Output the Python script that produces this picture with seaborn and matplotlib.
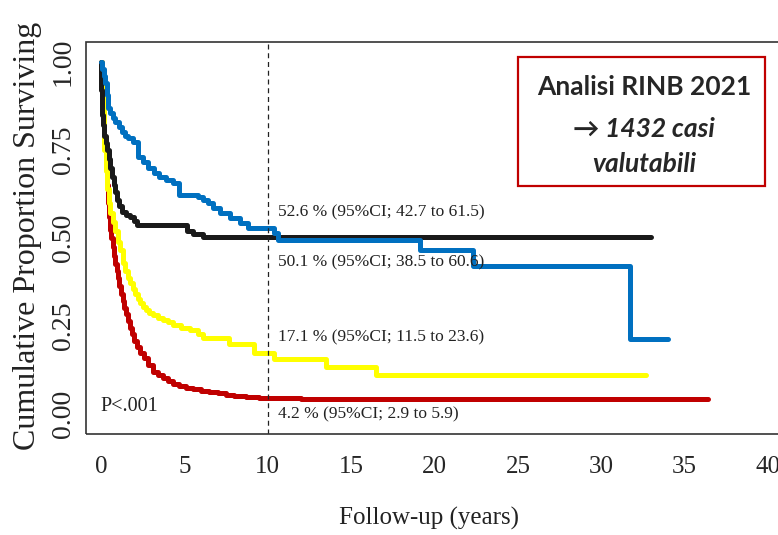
import matplotlib
matplotlib.use("Agg")
import matplotlib.pyplot as plt
from matplotlib.patches import Rectangle
import seaborn as sns

# Kaplan-Meier step curves (time in years, proportion surviving)
blue_t = [0, 0.08, 0.16, 0.24, 0.33, 0.42, 0.55, 0.7, 0.84, 1.05, 1.26, 1.45, 1.62, 1.92, 2.2,
          2.5, 2.8, 3.15, 3.5, 3.9, 4.3, 4.7, 5.8, 6.1, 6.4, 6.72, 7.14, 7.74, 8.34, 8.8, 10.4,
          10.6, 19.1, 22.3, 31.7, 34.0]
blue_s = [1.0, 0.98, 0.96, 0.94, 0.905, 0.87, 0.855, 0.84, 0.83, 0.815, 0.80, 0.79, 0.784,
          0.773, 0.73, 0.715, 0.70, 0.686, 0.673, 0.665, 0.656, 0.622, 0.617, 0.607, 0.60,
          0.585, 0.571, 0.557, 0.543, 0.528, 0.515, 0.494, 0.466, 0.42, 0.213, 0.213]

black_t = [0, 0.02, 0.05, 0.1, 0.18, 0.27, 0.36, 0.46, 0.56, 0.66, 0.76, 0.86, 0.96, 1.1, 1.26,
           1.5, 1.74, 1.95, 2.16, 5.16, 5.5, 6.1, 33.0]
black_s = [1.0, 0.92, 0.85, 0.82, 0.79, 0.77, 0.75, 0.725, 0.70, 0.673, 0.65, 0.63, 0.608, 0.59,
           0.574, 0.565, 0.56, 0.548, 0.537, 0.52, 0.512, 0.503, 0.503]

yellow_t = [0, 0.05, 0.1, 0.15, 0.2, 0.28, 0.36, 0.45, 0.55, 0.7, 0.85, 1.0, 1.14, 1.3, 1.45,
            1.6, 1.74, 1.9, 2.05, 2.2, 2.34, 2.5, 2.7, 2.9, 3.12, 3.4, 3.7, 4.0, 4.3, 4.8, 5.34,
            5.8, 6.12, 7.7, 9.2, 10.4, 13.5, 16.5, 32.7]
yellow_s = [1.0, 0.93, 0.87, 0.81, 0.75, 0.69, 0.64, 0.60, 0.57, 0.545, 0.52, 0.49, 0.466, 0.43,
            0.405, 0.385, 0.372, 0.355, 0.34, 0.328, 0.315, 0.305, 0.296, 0.288, 0.281, 0.273,
            0.266, 0.26, 0.253, 0.245, 0.239, 0.228, 0.216, 0.20, 0.173, 0.155, 0.134, 0.11, 0.11]

red_t = [0, 0.04, 0.08, 0.12, 0.16, 0.2, 0.24, 0.3, 0.36, 0.42, 0.48, 0.54, 0.62, 0.7, 0.78,
         0.86, 0.94, 1.02, 1.1, 1.2, 1.3, 1.4, 1.5, 1.6, 1.72, 1.85, 2.0, 2.16, 2.35, 2.55, 2.8,
         3.1, 3.4, 3.7, 4.0, 4.3, 4.7, 5.1, 5.5, 6.0, 6.5, 7.0, 7.5, 8.0, 8.7, 9.5, 10.5, 12.0,
         36.4]
red_s = [1.0, 0.95, 0.91, 0.87, 0.83, 0.79, 0.75, 0.70, 0.65, 0.60, 0.56, 0.523, 0.50, 0.475,
         0.45, 0.425, 0.405, 0.385, 0.365, 0.342, 0.322, 0.302, 0.283, 0.265, 0.245, 0.226,
         0.207, 0.19, 0.172, 0.158, 0.138, 0.12, 0.11, 0.101, 0.093, 0.086, 0.08, 0.074, 0.07,
         0.066, 0.063, 0.059, 0.055, 0.051, 0.048, 0.046, 0.045, 0.042, 0.042]

x_ticks = [0, 5, 10, 15, 20, 25, 30, 35, 40]
y_ticks = [0.0, 0.25, 0.5, 0.75, 1.0]
y_ticklabels = ["0.00", "0.25", "0.50", "0.75", "1.00"]

ci_labels = ["52.6 % (95%CI; 42.7 to 61.5)", "50.1 % (95%CI; 38.5 to 60.6)",
             "17.1 % (95%CI; 11.5 to 23.6)", "4.2 % (95%CI; 2.9 to 5.9)"]
ci_y = [0.572, 0.430, 0.217, -0.001]
box_lines = ["Analisi RINB 2021", "\u2192 1432 casi", "valutabili"]

sns.set_style("white")
plt.rcParams["font.family"] = ["Liberation Serif", "DejaVu Serif"]

W, H = 778, 535
fig = plt.figure(figsize=(W / 100, H / 100), dpi=100)
ax = fig.add_axes([86 / W, 1 - 434 / H, (793.6 - 86) / W, 392 / H])

curves = [(red_t, red_s, "#C00000"), (yellow_t, yellow_s, "#FFFF00"),
          (black_t, black_s, "#1a1a1a"), (blue_t, blue_s, "#0070C0")]
for t, s, c in curves:
    sns.lineplot(x=t, y=s, drawstyle="steps-post", color=c, lw=3.6, ax=ax)

ax.set_xlim(-0.9, 41.53)
ax.set_ylim(-0.057, 1.057)
ax.axvline(10, color="#222", lw=0.9, ls=(0, (4, 3)))

for sp in ax.spines.values():
    sp.set_visible(False)
ax.spines["bottom"].set_position(("outward", 3))
ax.add_patch(Rectangle((0, 0), 1, 1, transform=ax.transAxes, fill=False,
                       lw=1.2, ec="#333", clip_on=False, zorder=5))

ax.set_xticks(x_ticks)
ax.set_yticks(y_ticks)
ax.set_yticklabels(y_ticklabels)
ax.tick_params(axis="x", length=8, width=1.1, color="#333", pad=5, labelsize=18)
ax.tick_params(axis="y", length=6, width=1.1, color="#333", pad=1.5, labelsize=20,
               labelrotation=90)
for lab in ax.get_yticklabels():
    lab.set_va("center")
ax.set_xlabel("")
ax.set_ylabel("")

for lab, yv in zip(ci_labels, ci_y):
    ax.text(10.6, yv, lab, fontsize=12.5, va="center", ha="left", color="#222")
ax.text(-0.06, 0.021, "P<.001", fontsize=14.5, va="center", ha="left", color="#222")

fig.text(13 / W, 1 - 236 / H, "Cumulative Proportion Surviving", rotation=90,
         fontsize=23, ha="left", va="center", color="#222")
fig.text(429 / W, 1 - 518 / H, "Follow-up (years)", fontsize=18,
         ha="center", va="center", color="#222")

# framed note in the top right corner
fig.patches.append(Rectangle((518 / W, 1 - 186 / H), (765 - 518) / W, (186 - 57) / H,
                             transform=fig.transFigure, fill=False, ec="#C00000", lw=1.6))
sans = ["Lato", "DejaVu Sans"]
fig.text(644 / W, 1 - 95 / H, box_lines[0], family=sans, fontsize=19, fontweight="bold",
         ha="center", va="baseline")
fig.text(644 / W, 1 - 137 / H, box_lines[1], family=sans, fontsize=19, fontweight="bold",
         fontstyle="italic", ha="center", va="baseline")
fig.text(644 / W, 1 - 172 / H, box_lines[2], family=sans, fontsize=19, fontweight="bold",
         fontstyle="italic", ha="center", va="baseline")

fig.savefig("out.png", dpi=100)
